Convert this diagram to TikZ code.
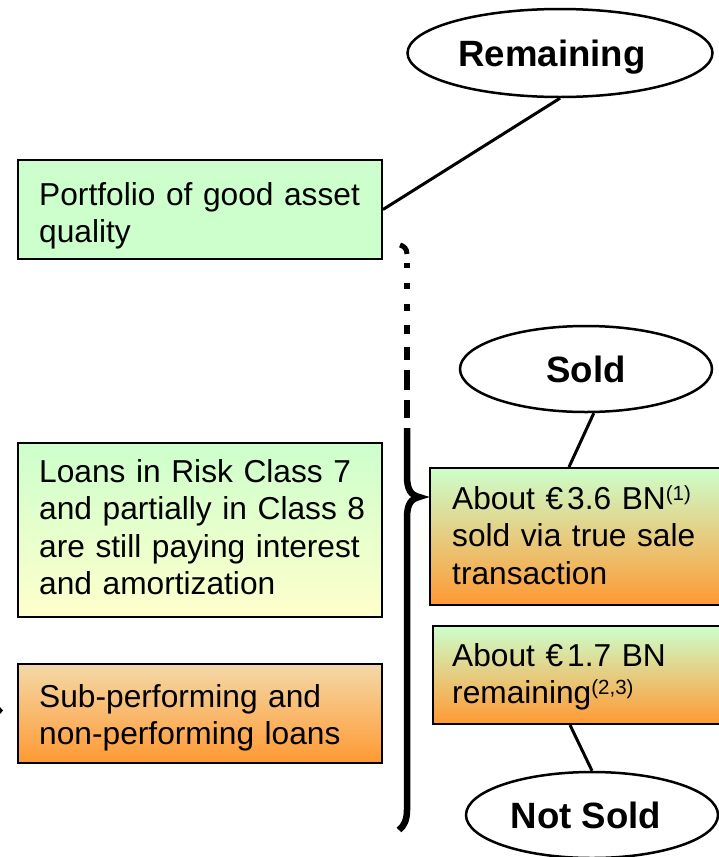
\documentclass[tikz,border=0pt]{standalone}
\usepackage{fontspec}
\setmainfont{Liberation Sans}
\usetikzlibrary{shapes.geometric,calc}
\definecolor{lgreen}{HTML}{CCFFCC}
\definecolor{lyellow}{HTML}{FFFFCC}
\definecolor{orng}{HTML}{FF9933}
\definecolor{paletan}{HTML}{F3D9A8}
\newcommand{\supnote}[1]{\raisebox{9pt}{\fontsize{20.5}{20.5}\selectfont #1}}
\begin{document}
\begin{tikzpicture}[x=1pt,y=-1pt,
  boxshape/.style={draw=black, line width=2pt, rectangle, inner sep=0pt, anchor=north west},
  boxtext/.style={anchor=base west, text width=400pt, align=left, inner sep=0pt,
    font=\fontsize{31.7}{37.5}\selectfont},
  oval/.style={draw=black, ellipse, line width=2.5pt, inner sep=0pt, fill=white,
    font=\bfseries\fontsize{36.6}{40}\selectfont, text height=26.2pt, text depth=0pt},
  link/.style={line width=3pt},
  bracestroke/.style={line width=6.5pt}]
\useasboundingbox (0,0) rectangle (719,857);
\clip (0,0) rectangle (719,857);

% left boxes
\node[boxshape, minimum width=364, minimum height=99, fill=lgreen] (port) at (17,159) {};
\node[boxtext] (portT) at ($(port.north west)+(22,46)$) {Portfolio of good asset\\quality};

\node[boxshape, minimum width=364, minimum height=174, top color=lgreen, bottom color=lyellow] (loans) at (17,442) {};
\node[boxtext] (loansT) at ($(loans.north west)+(22,40)$) {Loans in Risk Class 7\\and partially in Class 8\\are still paying interest\\and amortization};

\node[boxshape, minimum width=364, minimum height=99, top color=paletan, bottom color=orng] (sub) at (17,663) {};
\node[boxtext] (subT) at ($(sub.north west)+(22,44)$) {Sub-performing and\\non-performing loans};

% right boxes
\node[boxshape, minimum width=320, minimum height=137, top color=lgreen, bottom color=orng] (b36) at (429,467) {};
\node[boxtext] (b36T) at ($(b36.north west)+(23,42)$) {About €\hspace{4pt}3.6 BN\supnote{(1)}\\sold via true sale\\transaction};

\node[boxshape, minimum width=320, minimum height=98, top color=lgreen, bottom color=orng] (b17) at (432,625) {};
\node[boxtext] (b17T) at ($(b17.north west)+(20,41)$) {About €\hspace{4pt}1.7 BN\\remaining\supnote{(2,3)}};

% ellipses
\node[oval, minimum width=305, minimum height=88] (rem) at (560,53) {\hspace*{-16pt}Remaining};
\node[oval, minimum width=252, minimum height=86] (sold) at (586,369) {Sold};
\node[oval, minimum width=252, minimum height=86] (nsold) at (592,815) {\hspace*{-12pt}Not Sold};

% connectors
\draw[link] (port.east) -- (rem.south);
\draw[link] (sold.-80) -- ($(b36.north west)+(140,0)$);
\draw[link] ($(b17.south west)+(138,0)$) -- (nsold.north);

% brace
\draw[line width=5pt] (400,245) .. controls (404,246) and (407,249) .. (407,254);
\foreach \a/\b in {263/268, 283/289, 304/311, 325/334, 347/360, 370/390, 400/418}
  \draw[bracestroke] (407,\a) -- (407,\b);
\draw[bracestroke] (407,428) -- (407,476) .. controls (407,490) and (411,495) .. (419,497)
  .. controls (411,499) and (407,504) .. (407,518) -- (407,810)
  .. controls (407,820) and (404,826) .. (399,830);

% small fragment at left edge
\fill (0,707) -- (3,710.5) -- (0,714) -- cycle;
\end{tikzpicture}
\end{document}
